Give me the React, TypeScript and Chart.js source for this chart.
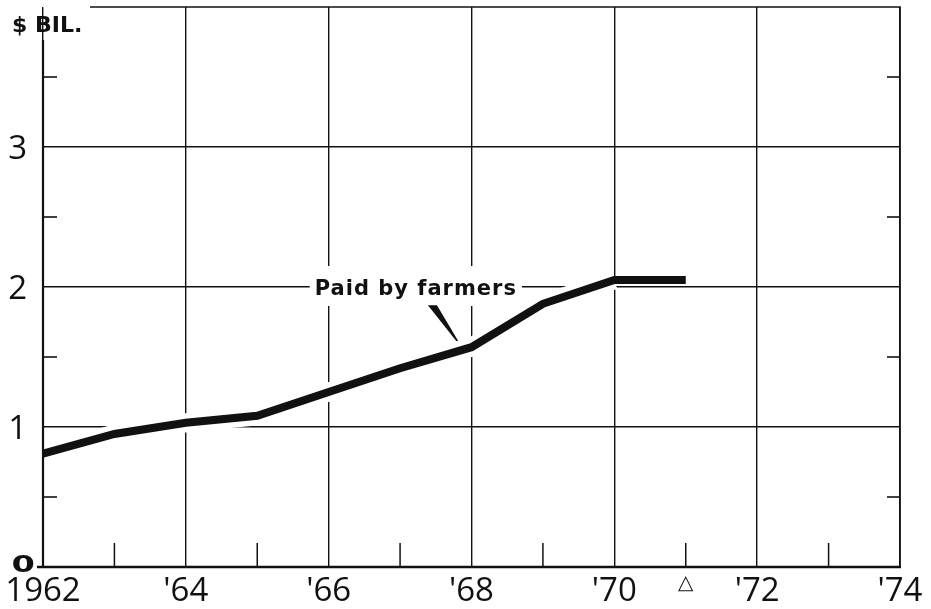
import React, { useEffect, useRef } from 'react';
import { Chart, registerables } from 'chart.js';
Chart.register(...registerables);

// ---- data ----
const years = [1962, 1963, 1964, 1965, 1966, 1967, 1968, 1969, 1970, 1971];
const paidByFarmers = [0.81, 0.95, 1.03, 1.08, 1.25, 1.42, 1.57, 1.88, 2.05, 2.05];
const xTickLabels: Record<number, string> = {
  1962: '1962', 1964: "'64", 1966: "'66", 1968: "'68", 1970: "'70", 1971: '\u25B3', 1972: "'72", 1974: "'74",
};
const yTickLabels: Record<number, string> = { 1: '1', 2: '2', 3: '3' };
const zeroLabel = '0';
const minorYearTicks = [1963, 1965, 1967, 1969, 1971, 1973];
const minorValueTicks = [0.5, 1.5, 2.5, 3.5];
const seriesLabel = 'Paid by farmers';
const unitLabel = '$ BIL.';
const labelAnchor = { x: 1967.22, y: 2 };
const pointerFrom = { x: 1967.39, y: 1.87 };
const pointerTo = { x: 1967.8, y: 1.614 };

const INK = '#111111';

const framePlugin = {
  id: 'frame',
  afterDatasetsDraw(chart: any) {
    const { ctx, chartArea, scales } = chart;
    const { left, right, top, bottom } = chartArea;
    const x = scales.x;
    const y = scales.y;
    const line = (x1: number, y1: number, x2: number, y2: number, w: number) => {
      ctx.lineWidth = w;
      ctx.beginPath();
      ctx.moveTo(x1, y1);
      ctx.lineTo(x2, y2);
      ctx.stroke();
    };
    ctx.save();
    ctx.strokeStyle = INK;
    ctx.lineCap = 'butt';
    // axes / frame
    line(left - 6, bottom, right + 1, bottom, 2.6);
    line(left, top + 33, left, bottom + 1, 2.2);
    line(left + 47, top, right + 0.8, top, 1.6);
    line(right, top, right, bottom, 1.6);
    // minor ticks
    for (const v of minorValueTicks) {
      const py = y.getPixelForValue(v);
      line(left, py, left + 14, py, 1.6);
      line(right - 13, py, right, py, 1.6);
    }
    for (const yr of minorYearTicks) {
      const px = x.getPixelForValue(yr);
      line(px, bottom, px, bottom - 24, 1.5);
    }
    // zero label
    ctx.fillStyle = INK;
    ctx.font = 'bold 25px "DejaVu Sans"';
    ctx.textAlign = 'right';
    ctx.textBaseline = 'alphabetic';
    ctx.save();
    ctx.translate(left - 8, y.getPixelForValue(0) + 5);
    ctx.scale(1.35, 0.92);
    ctx.fillText(zeroLabel, 0, 0);
    ctx.restore();
    // unit label
    ctx.font = 'bold 22px "DejaVu Sans"';
    ctx.textAlign = 'left';
    ctx.fillText(unitLabel, 12, 32);
    // series annotation
    const cx = x.getPixelForValue(labelAnchor.x);
    const cy = y.getPixelForValue(labelAnchor.y);
    ctx.font = 'bold 21px "DejaVu Sans"';
    try { (ctx as any).letterSpacing = '1px'; } catch (e) {}
    const w = ctx.measureText(seriesLabel).width;
    ctx.fillStyle = '#ffffff';
    ctx.fillRect(cx - w / 2 - 5, cy - 21, w + 10, 40);
    ctx.fillStyle = INK;
    ctx.textAlign = 'center';
    ctx.fillText(seriesLabel, cx, cy + 7.5);
    try { (ctx as any).letterSpacing = '0px'; } catch (e) {}
    // pointer wedge
    const fx = x.getPixelForValue(pointerFrom.x);
    const fy = y.getPixelForValue(pointerFrom.y);
    const tx = x.getPixelForValue(pointerTo.x);
    const ty = y.getPixelForValue(pointerTo.y);
    ctx.beginPath();
    ctx.moveTo(fx, fy);
    ctx.lineTo(fx + 9, fy);
    ctx.lineTo(tx + 1, ty);
    ctx.lineTo(tx - 1, ty);
    ctx.closePath();
    ctx.fill();
    ctx.restore();
  },
};

export default function App() {
  const ref = useRef<HTMLCanvasElement>(null);
  useEffect(() => {
    if (!ref.current) return;
    const points = years.map((yr, i) => ({ x: yr, y: paidByFarmers[i] }));
    const chart = new Chart(ref.current, {
      type: 'line',
      data: {
        datasets: [
          {
            label: seriesLabel,
            data: points,
            borderColor: INK,
            borderWidth: 8,
            pointRadius: 0,
            tension: 0,
            borderCapStyle: 'butt',
            borderJoinStyle: 'miter',
            order: 0,
          },
          {
            label: 'casing',
            data: points,
            borderColor: '#ffffff',
            borderWidth: 19,
            pointRadius: 0,
            tension: 0,
            borderCapStyle: 'butt',
            segment: {
              borderColor: (c: any) => (c.p0.parsed.x < 1970 ? '#ffffff' : 'rgba(255,255,255,0)'),
            },
            order: 1,
          },
        ],
      },
      options: {
        animation: false,
        responsive: false,
        devicePixelRatio: 1,
        layout: { padding: { top: 7, right: 31, left: 0, bottom: 0 } },
        plugins: { legend: { display: false }, tooltip: { enabled: false } },
        scales: {
          x: {
            type: 'linear',
            min: 1962,
            max: 1974,
            afterFit: (s: any) => { s.height = 42; },
            border: { display: false },
            grid: {
              drawTicks: false,
              lineWidth: 1.4,
              color: (c: any) => (c.tick && c.tick.value % 2 === 0 ? INK : 'rgba(0,0,0,0)'),
            },
            ticks: {
              stepSize: 1,
              autoSkip: false,
              maxRotation: 0,
              padding: 5,
              color: INK,
              font: (c: any) =>
                c.tick && c.tick.value === 1971
                  ? { family: '"DejaVu Sans"', size: 20 }
                  : { family: '"Open Sans"', size: 33 },
              callback: (v: any) => xTickLabels[v as number] ?? '',
            },
          },
          y: {
            min: 0,
            max: 4,
            afterFit: (s: any) => { s.width = 43; s.paddingTop = 0; s.paddingBottom = 0; },
            border: { display: false },
            grid: {
              drawTicks: false,
              lineWidth: 1.4,
              color: (c: any) => {
                const v = c.tick ? c.tick.value : -1;
                return v === 1 || v === 2 || v === 3 ? INK : 'rgba(0,0,0,0)';
              },
            },
            ticks: {
              stepSize: 0.5,
              autoSkip: false,
              padding: 16,
              labelOffset: 3,
              color: INK,
              font: (c: any) => {
                const v = c.tick ? c.tick.value : -1;
                if (v === 0 || v === 4) return { family: '"Open Sans"', size: 1 };
                return { family: '"Open Sans"', size: 33 };
              },
              callback: (v: any) => yTickLabels[v as number] ?? '',
            },
          },
        },
      },
      plugins: [framePlugin],
    } as any);
    return () => chart.destroy();
  }, []);
  return (
    <div style={{ position: 'fixed', left: 0, top: 0, width: 931, height: 609, background: '#fff' }}>
      <canvas ref={ref} width={931} height={609} style={{ display: 'block' }} />
    </div>
  );
}
